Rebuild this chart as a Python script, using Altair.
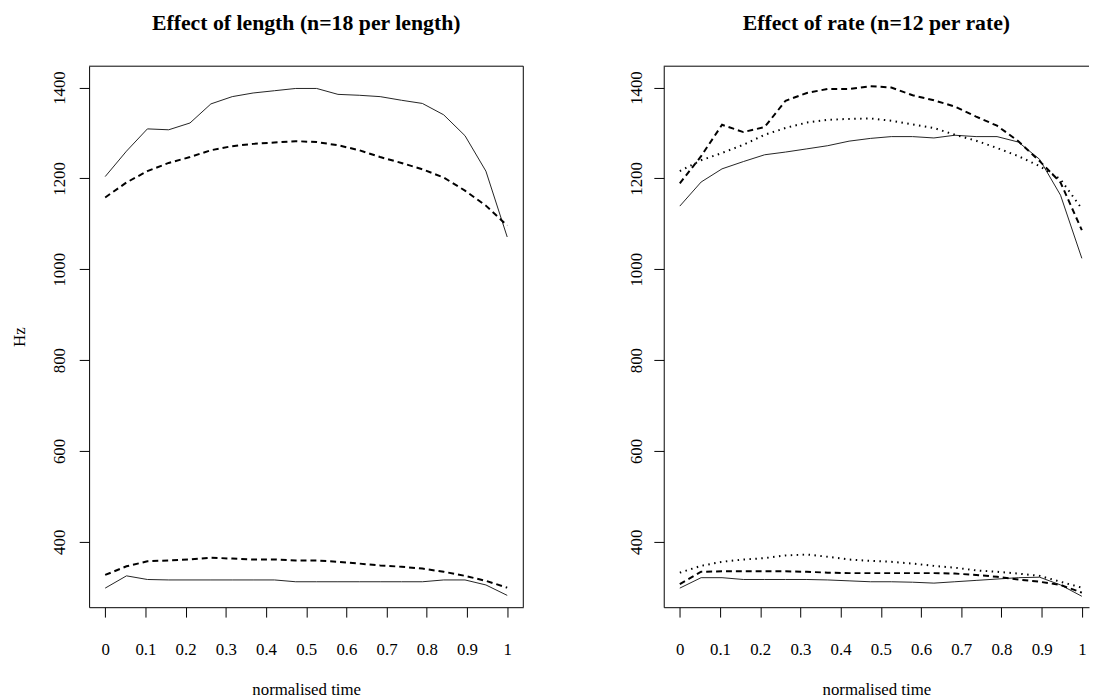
import altair as alt
import pandas as pd

# normalised time points (20 samples)
t = [0, 0.053, 0.105, 0.158, 0.211, 0.263, 0.316, 0.368, 0.421, 0.474,
     0.526, 0.579, 0.632, 0.684, 0.737, 0.789, 0.842, 0.895, 0.947, 1]
x_ticks = [0, 0.1, 0.2, 0.3, 0.4, 0.5, 0.6, 0.7, 0.8, 0.9, 1]
y_ticks = [400, 600, 800, 1000, 1200, 1400]

# Effect of length
len_solid_f2 = [1204, 1260, 1309, 1307, 1322, 1364, 1380, 1388, 1393, 1398,
                1398, 1385, 1383, 1380, 1372, 1365, 1340, 1294, 1216, 1071]
len_dashed_f2 = [1158, 1191, 1216, 1234, 1247, 1262, 1271, 1276, 1279, 1282,
                 1280, 1273, 1262, 1247, 1234, 1220, 1202, 1173, 1140, 1096]
len_solid_f1 = [298, 325, 317, 316, 316, 316, 316, 316, 316, 312,
                312, 312, 312, 312, 312, 312, 316, 316, 305, 282]
len_dashed_f1 = [327, 346, 357, 359, 361, 365, 363, 361, 361, 359,
                 359, 356, 352, 348, 345, 341, 334, 325, 314, 299]

# Effect of rate
rate_solid_f2 = [1139, 1192, 1221, 1237, 1252, 1258, 1265, 1272, 1282, 1288,
                 1292, 1292, 1289, 1295, 1292, 1292, 1280, 1242, 1163, 1024]
rate_dashed_f2 = [1189, 1249, 1318, 1302, 1313, 1371, 1388, 1397, 1397, 1403,
                  1400, 1383, 1372, 1358, 1336, 1316, 1282, 1238, 1191, 1086]
rate_dotted_f2 = [1216, 1240, 1256, 1274, 1296, 1311, 1323, 1329, 1331, 1332,
                  1327, 1319, 1311, 1296, 1283, 1267, 1249, 1227, 1198, 1133]
rate_solid_f1 = [298, 321, 321, 317, 317, 317, 317, 316, 314, 312,
                 312, 311, 309, 312, 315, 318, 321, 322, 305, 280]
rate_dashed_f1 = [307, 334, 335, 335, 335, 335, 334, 332, 331, 331,
                  331, 331, 331, 330, 327, 323, 317, 312, 305, 288]
rate_dotted_f1 = [332, 347, 356, 361, 364, 370, 372, 367, 361, 358,
                  356, 352, 347, 343, 337, 334, 330, 325, 312, 299]

FONT = "Liberation Serif"
H = 547
Y_DOMAIN = [256, 1447]

STYLES = {
    "solid": dict(strokeWidth=1.0, color="#222222"),
    "dashed": dict(strokeWidth=2, color="black", strokeDash=[6, 4]),
    "dotted": dict(strokeWidth=2, color="black", strokeDash=[1.5, 4.5]),
}


def frame(series):
    rows = []
    for style, formant, vals in series:
        for ti, v in zip(t, vals):
            rows.append({"t": ti, "hz": v, "style": style, "formant": formant})
    return pd.DataFrame(rows)


def panel(series, title, width, xdomain, ytitle, right_border, label_pad):
    df = frame(series)
    x = alt.X("t:Q", scale=alt.Scale(domain=xdomain, nice=False, zero=False),
              axis=alt.Axis(values=x_ticks, format="~g", title="normalised time",
                            tickSize=10, labelPadding=25, domain=True,
                            titleY=83, titleBaseline="middle"))
    yaxis = dict(values=y_ticks, format="d", labelAngle=270, labelAlign="center",
                 labelBaseline="bottom", tickSize=10, labelPadding=label_pad,
                 domain=True)
    if ytitle:
        yaxis.update(title=ytitle, titleAngle=270, titleX=-65, titleY=H / 2,
                     titleAlign="center", titleBaseline="alphabetic")
    else:
        yaxis.update(title=None)
    y = alt.Y("hz:Q", scale=alt.Scale(domain=Y_DOMAIN, nice=False, zero=False),
              axis=alt.Axis(**yaxis))
    layers = []
    for style in ["solid", "dashed", "dotted"]:
        sub = df[df["style"] == style]
        if sub.empty:
            continue
        layers.append(
            alt.Chart(sub).mark_line(**STYLES[style]).encode(
                x=x, y=y, detail="formant:N", order="t:Q")
        )
    one = pd.DataFrame({"k": [0]})
    layers.append(alt.Chart(one).mark_rule(color="black", strokeWidth=1).encode(
        x=alt.value(0), x2=alt.value(width), y=alt.value(0)))
    if right_border:
        layers.append(alt.Chart(one).mark_rule(color="black", strokeWidth=1).encode(
            x=alt.value(width), y=alt.value(0), y2=alt.value(H)))
    return alt.layer(*layers).properties(
        width=width, height=H,
        title=alt.TitleParams(title, anchor="middle", baseline="alphabetic", offset=14))


left = panel([("solid", "F2", len_solid_f2), ("dashed", "F2", len_dashed_f2),
              ("solid", "F1", len_solid_f1), ("dashed", "F1", len_dashed_f1)],
             "Effect of length (n=18 per length)", 439, [-0.04, 1.04], "Hz", True, 11)
right = panel([("solid", "F2", rate_solid_f2), ("dashed", "F2", rate_dashed_f2),
               ("dotted", "F2", rate_dotted_f2), ("solid", "F1", rate_solid_f1),
               ("dashed", "F1", rate_dashed_f1), ("dotted", "F1", rate_dotted_f1)],
              "Effect of rate (n=12 per rate)", 430, [-0.04, 1.0178], None, False, 8)

chart = alt.hconcat(left, right, spacing=104).properties(
    padding={"left": 3, "top": 0, "right": 0, "bottom": 0}
).configure_view(stroke=None).configure_axis(
    labelFont=FONT, titleFont=FONT, labelFontSize=17, titleFontSize=17,
    labelColor="black", titleColor="black", titleFontWeight="normal",
    domainColor="black", tickColor="black", domainWidth=1, tickWidth=1,
    grid=False
).configure_title(font=FONT, fontSize=22, fontWeight="bold", color="black")

chart.save("out.html", embed_options={"renderer": "svg", "actions": False})
